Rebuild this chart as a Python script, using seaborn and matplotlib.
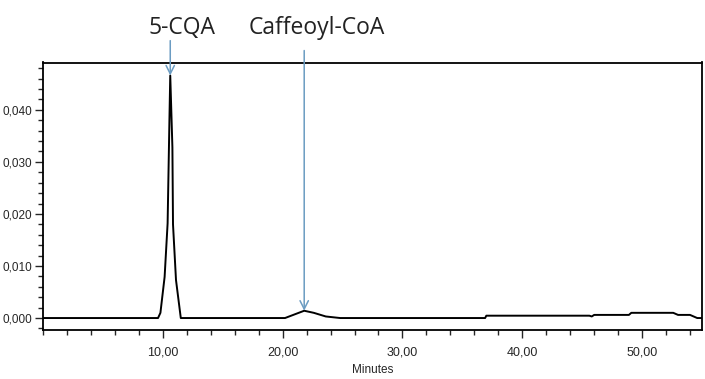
import numpy as np
import pandas as pd
import matplotlib.pyplot as plt
import matplotlib.transforms as mtransforms
import seaborn as sns
from matplotlib.ticker import MultipleLocator, FixedLocator

# Chromatogram trace (minutes, mAU*1000)
time_min = [0.0, 9.6, 9.8, 10.15, 10.4, 10.55, 10.62, 10.8, 10.85, 11.1, 11.5,
            20.2, 21.0, 21.8, 22.6, 23.6, 24.8, 36.9, 37.0, 45.6, 45.8, 46.0,
            48.9, 49.1, 52.6, 53.0, 54.0, 54.6, 55.0]
absorbance = [0.0, 0.0, 1.0, 7.9, 18.2, 37.9, 46.6, 32.8, 18.0, 7.3, 0.0,
              0.0, 0.7, 1.4, 1.0, 0.3, 0.0, 0.0, 0.45, 0.45, 0.3, 0.6,
              0.6, 1.0, 1.0, 0.6, 0.6, 0.0, 0.0]

y_ticks = [0, 10, 20, 30, 40]
y_labels = ["0,000", "0,010", "0,020", "0,030", "0,040"]
x_ticks = [10, 20, 30, 40, 50]
x_labels = ["10,00", "20,00", "30,00", "40,00", "50,00"]

peak_names = ["5-CQA", "Caffeoyl-CoA"]
peak_times = [10.62, 21.8]
peak_heights = [46.6, 1.4]
arrow_start = [53.3, 51.4]   # top of arrow shaft, data units above the frame
label_x = [11.6, 22.85]

df = pd.DataFrame({"Minutes": time_min, "AU": absorbance})

sns.set_style("ticks")
plt.rcParams['font.family'] = ['Liberation Sans', 'DejaVu Sans']

fig = plt.figure(figsize=(7.05, 3.79), dpi=100)
ax = fig.add_axes([43 / 705, 1 - 330 / 379, (702 - 43) / 705, (330 - 62.5) / 379])

sns.lineplot(data=df, x="Minutes", y="AU", ax=ax, color="black", linewidth=1.4)

ax.set_xlim(0, 55)
ax.set_ylim(-2.3, 49.1)

ax.xaxis.set_major_locator(FixedLocator(x_ticks))
ax.set_xticklabels(x_labels)
ax.xaxis.set_minor_locator(MultipleLocator(2))
ax.yaxis.set_major_locator(FixedLocator(y_ticks))
ax.set_yticklabels(y_labels)
ax.yaxis.set_minor_locator(MultipleLocator(2))

ax.tick_params(which="major", length=6, width=1, direction="out", labelsize=9)
ax.tick_params(axis="x", which="major", pad=6)
ax.tick_params(axis="y", which="major", pad=2, labelsize=8.5)
ax.tick_params(which="minor", length=3.5, width=1, direction="out")
for s in ax.spines.values():
    s.set_visible(True)
    s.set_linewidth(1.3)
    s.set_color("black")

ax.set_xlabel("Minutes", fontsize=8.5, labelpad=4)
ax.set_ylabel("")

# peak annotations with light-blue arrows
arrow_col = "#6b9cc2"
label_trans = mtransforms.blended_transform_factory(ax.transData, fig.transFigure)
for name, t, h, y0, lx in zip(peak_names, peak_times, peak_heights, arrow_start, label_x):
    ax.annotate("", xy=(t, h), xytext=(t, y0),
                arrowprops=dict(arrowstyle="->,head_length=0.6,head_width=0.3",
                                color=arrow_col, lw=1.1, shrinkA=0, shrinkB=0),
                annotation_clip=False)
    ax.text(lx, 1 - 28 / 379, name, transform=label_trans,
            ha="center", va="center", fontsize=16.5, family=['Open Sans', 'DejaVu Sans'],
            color="#222222", clip_on=False)

fig.savefig("out.png", dpi=100)
